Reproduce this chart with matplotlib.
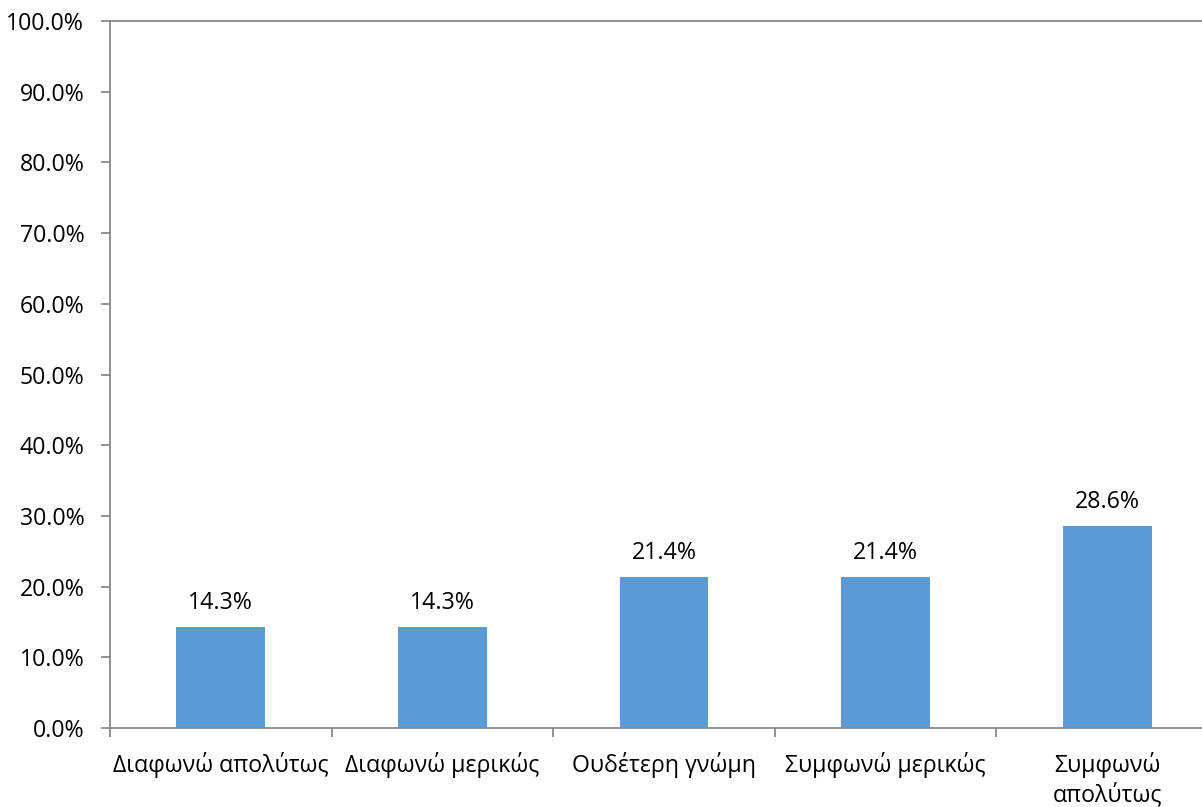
import matplotlib
matplotlib.use("Agg")
import matplotlib.pyplot as plt
from matplotlib.ticker import FixedLocator, PercentFormatter

categories = ["Διαφωνώ απολύτως", "Διαφωνώ μερικώς", "Ουδέτερη γνώμη",
              "Συμφωνώ μερικώς", "Συμφωνώ\nαπολύτως"]
values = [14.3, 14.3, 21.4, 21.4, 28.6]
y_ticks = [0, 10, 20, 30, 40, 50, 60, 70, 80, 90, 100]

plt.rcParams['font.family'] = ['Open Sans', 'DejaVu Sans']

fig = plt.figure(figsize=(12.02, 8.07), dpi=100)
W, H = 1202, 807
left, right, top, bottom = 110, 1218, 21, 728
ax = fig.add_axes([left / W, 1 - bottom / H, (right - left) / W, (bottom - top) / H])

bar_color = "#5B9BD5"
axis_color = "#898989"
fs = 16.7
x = list(range(len(categories)))
bars = ax.bar(x, values, width=0.4, color=bar_color, zorder=2)

for xi, v in zip(x, values):
    ax.annotate(f"{v:.1f}%", (xi, v), xytext=(0, 13), textcoords="offset points",
                ha="center", va="baseline", fontsize=fs, color="#000000")

ax.set_xlim(-0.5, len(categories) - 0.5)
ax.set_ylim(0, 100)
ax.set_yticks(y_ticks)
ax.yaxis.set_major_formatter(PercentFormatter(decimals=1))
ax.set_xticks(x)
ax.set_xticklabels(categories, fontsize=fs, linespacing=1.3)
ax.xaxis.set_minor_locator(FixedLocator([i + 0.5 for i in range(-1, len(categories))]))

ax.tick_params(axis="y", which="major", length=6.5, width=1.3, color=axis_color,
               labelsize=fs, pad=12)
ax.tick_params(axis="x", which="major", length=0, pad=17)
ax.tick_params(axis="x", which="minor", length=6.5, width=1.3, color=axis_color)

for side in ("left", "bottom", "top"):
    ax.spines[side].set_color(axis_color)
    ax.spines[side].set_linewidth(1.3)
ax.spines["right"].set_visible(False)

fig.savefig("out.png", dpi=100, facecolor="white")
